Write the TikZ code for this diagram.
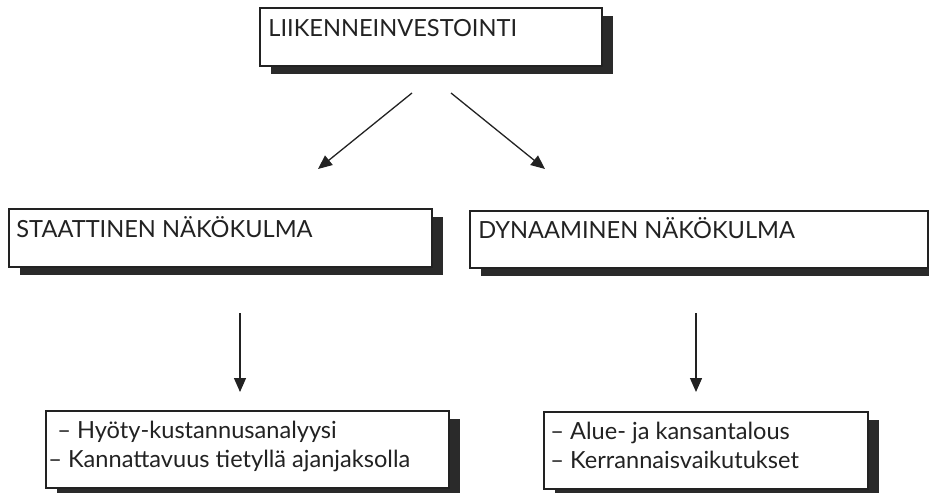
\documentclass[tikz,border=0pt]{standalone}
\usepackage{fontspec}
\setmainfont{Lato}
\usetikzlibrary{arrows.meta,calc,shadows}
\definecolor{boxLine}{HTML}{222222}
\definecolor{boxShade}{HTML}{2A2A2A}
\tikzset{
  box/.style={draw=boxLine, line width=0.8pt, fill=white, anchor=north west, inner sep=0pt,
    drop shadow={shadow xshift=5.5pt, shadow yshift=-4pt, fill=boxShade, opacity=1}},
  lbl/.style={anchor=base west, inner sep=0pt, font=\fontsize{11.8}{14}\selectfont, text=boxLine},
  arr/.style={-{Triangle[length=7pt,width=6pt]}, line width=0.65pt, boxLine}
}
\begin{document}
\begin{tikzpicture}[x=0.5pt,y=-0.5pt]
\useasboundingbox (0,0) rectangle (929,492);
% investment
\node[box, minimum width=171pt, minimum height=29pt] (invest) at (259,7) {};
\node[lbl] (investtxt) at ($(invest.north west)+(9,30)$) {LIIKENNEINVESTOINTI};
% two views
\node[box, minimum width=211.5pt, minimum height=29pt] (static) at (8,208) {};
\node[lbl] (statictxt) at ($(static.north west)+(8,29)$) {STAATTINEN NÄKÖKULMA};
\node[box, minimum width=229pt, minimum height=28.5pt] (dynamic) at (469,210) {};
\node[lbl] (dynamictxt) at ($(dynamic.north west)+(9,28)$) {DYNAAMINEN NÄKÖKULMA};
% lists
\node[box, minimum width=201.5pt, minimum height=38.5pt] (statlist) at (45,410) {};
\node[lbl] (statA) at ($(statlist.north west)+(12,28)$) {– Hyöty-kustannusanalyysi};
\node[lbl] (statB) at ($(statlist.north west)+(3,57)$) {– Kannattavuus tietyllä ajanjaksolla};
\node[box, minimum width=162pt, minimum height=38.5pt] (dynlist) at (543,411) {};
\node[lbl] (dynA) at ($(dynlist.north west)+(7,28)$) {– Alue- ja kansantalous};
\node[lbl] (dynB) at ($(dynlist.north west)+(7,57)$) {– Kerrannaisvaikutukset};
% arrows
\coordinate (investL) at (412,93);
\coordinate (investR) at (451,93);
\coordinate (staticin) at (318,169);
\coordinate (dynamicin) at (545,169);
\coordinate (staticout) at (240,313);
\coordinate (statlistin) at (240,392);
\coordinate (dynamicout) at (696,313);
\coordinate (dynlistin) at (696,392);
\draw[arr] (investL) -- (staticin);
\draw[arr] (investR) -- (dynamicin);
\draw[arr] (staticout) -- (statlistin);
\draw[arr] (dynamicout) -- (dynlistin);
\end{tikzpicture}
\end{document}
